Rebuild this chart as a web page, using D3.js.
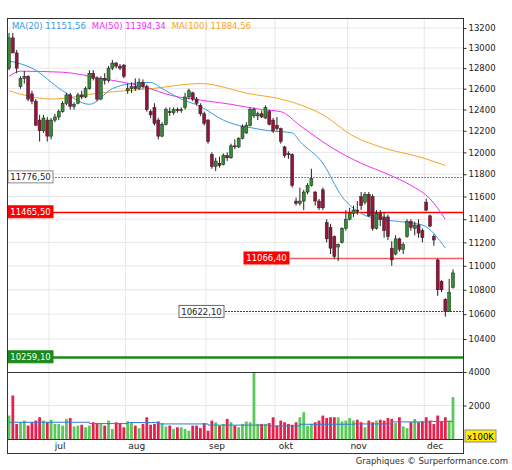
<!DOCTYPE html>
<html><head><meta charset="utf-8">
<script src="https://cdn.jsdelivr.net/npm/d3@7"></script>
<style>body{margin:0;background:#fff}text{font-family:"DejaVu Sans",sans-serif}</style>
</head><body><svg id="c" width="512" height="470"></svg>
<script>
"use strict";
// [open, high, low, close] per trading day
var ohlc = [
[12800,13150,12780,13100],[13100,13150,12950,12950],[12950,12980,12750,12800],[12620,12720,12600,12700],
[12700,12770,12650,12720],[12720,12730,12480,12500],[12550,12580,12450,12480],[12480,12500,12250,12250],
[12300,12350,12100,12200],[12200,12350,12180,12320],[12300,12330,12100,12150],[12150,12320,12120,12300],
[12300,12360,12280,12330],[12330,12400,12300,12380],[12380,12480,12370,12460],[12460,12560,12440,12540],
[12540,12560,12400,12430],[12430,12470,12400,12450],[12460,12560,12450,12540],[12540,12580,12500,12520],
[12520,12620,12510,12600],[12600,12780,12590,12750],[12750,12780,12680,12700],[12700,12720,12480,12500],
[12500,12720,12490,12700],[12700,12750,12640,12680],[12680,12820,12660,12800],[12800,12880,12780,12850],
[12850,12860,12800,12820],[12820,12840,12780,12800],[12830,12840,12700,12720],[12580,12650,12550,12600],
[12600,12660,12560,12620],[12620,12700,12580,12600],[12600,12700,12590,12660],[12660,12690,12600,12620],
[12620,12640,12380,12400],[12380,12400,12320,12350],[12420,12460,12250,12270],[12300,12320,12120,12150],
[12150,12280,12140,12260],[12260,12420,12250,12400],[12380,12420,12340,12370],[12370,12420,12350,12400],
[12400,12420,12370,12390],[12390,12420,12370,12400],[12420,12560,12400,12520],[12520,12600,12500,12580],
[12560,12570,12480,12500],[12500,12520,12440,12460],[12440,12460,12340,12360],[12360,12380,12250,12270],
[12300,12310,12080,12100],[11980,12000,11850,11870],[11870,11950,11830,11920],[11900,11960,11860,11880],
[11890,11990,11880,11970],[11970,12000,11920,11950],[11950,12080,11940,12060],[12060,12120,12030,12050],
[12050,12140,12040,12130],[12130,12260,12120,12240],[12180,12280,12170,12250],[12250,12420,12240,12400],
[12340,12420,12320,12400],[12340,12380,12300,12360],[12360,12390,12320,12330],[12320,12440,12310,12420],
[12380,12400,12250,12260],[12300,12320,12180,12200],[12250,12330,12200,12220],[12220,12230,12080,12100],
[12050,12060,11950,11970],[11990,12010,11940,11980],[11980,11990,11680,11700],[11560,11590,11520,11540],
[11540,11680,11520,11560],[11560,11660,11480,11640],[11640,11720,11620,11700],[11700,11850,11690,11760],
[11640,11650,11520,11560],[11560,11580,11480,11500],[11660,11680,11480,11500],[11370,11400,11200,11230],
[11330,11360,11100,11150],[11250,11260,11060,11080],[11160,11190,11040,11180],[11200,11330,11190,11320],
[11320,11480,11300,11400],[11400,11500,11390,11450],[11450,11520,11420,11480],[11480,11560,11440,11470],
[11600,11640,11480,11520],[11550,11640,11530,11620],[11620,11640,11420,11430],[11600,11620,11300,11320],
[11320,11480,11310,11450],[11450,11480,11340,11400],[11420,11460,11240,11300],[11420,11440,11220,11250],
[11150,11210,11000,11050],[11100,11260,11090,11230],[11230,11240,11120,11140],[11140,11200,11100,11180],
[11250,11400,11240,11380],[11380,11400,11300,11330],[11320,11380,11260,11350],[11350,11400,11240,11280],
[11300,11320,11200,11240],[11550,11580,11470,11480],[11430,11440,11330,11340],[11250,11270,11170,11220],
[11050,11060,10750,10800],[10870,10880,10780,10800],[10720,10730,10580,10620],[10620,10890,10620,10780],
[10820,10970,10810,10940]
];
var volume = [
1400,2600,900,1000,1100,800,1000,1100,1300,1100,1000,
1150,900,900,800,1200,1250,750,800,850,700,
800,1000,950,900,800,1100,600,1000,950,700,
1050,1000,800,650,900,1300,850,900,1050,950,
750,800,600,700,700,600,500,800,800,650,
950,500,1100,1000,800,900,1200,1000,800,700,
900,1050,1000,4000,900,900,900,950,1300,800,
1100,1000,900,850,1000,1300,1600,800,900,1000,
1100,1400,1250,1300,1300,1300,1050,1100,1250,1100,
1150,1000,700,1100,1000,1100,1150,1100,1250,1200,
950,1300,750,650,1000,1200,1000,1050,1300,1100,
900,1400,1050,1300,1100,2500
];
// moving averages sampled at [dayIndex, value]
var ma20 = [[0,12870],[6,12800],[14,12580],[21,12450],[27,12600],[32,12650],[37,12660],[40,12600],[45,12500],[50,12430],[56,12300],[60,12250],[63,12230],[68,12200],[74,12180],[76,12100],[82,11900],[87,11600],[92,11450],[97,11400],[102,11380],[108,11350],[114,11150]];
var ma50 = [[0,12720],[3,12770],[14,12760],[24,12700],[35,12620],[43,12530],[50,12490],[58,12450],[66,12400],[71,12380],[76,12250],[84,12050],[92,11900],[99,11800],[105,11700],[110,11580],[114,11400]];
var ma100 = [[0,12580],[11,12500],[24,12560],[37,12600],[50,12650],[63,12550],[71,12500],[82,12350],[90,12150],[97,12050],[108,11950],[114,11880]];
var volMA = [[0,1000],[20,1000],[21,920],[31,980],[39,900],[52,830],[68,780],[76,880],[90,900],[100,1020],[110,1050],[116,1050]];
var monthStart = [11,31,52,70,89,109];
var monthNames = ["jul","aug","sep","okt","nov","dec"];
var priceTicks = d3.range(10400, 13201, 200);
var levels = [
  {v:11776.5, label:"11776,50", kind:"grey", x0:null},
  {v:11465.5, label:"11465,50", kind:"red", x0:null},
  {v:11066.4, label:"11066,40", kind:"red", x0:290},
  {v:10622.1, label:"10622,10", kind:"dark", x0:225},
  {v:10259.1, label:"10259,10", kind:"green", x0:null}
];
var legend = [["MA(20)","11151,56","#3a9be0"],["MA(50)","11394,34","#f030f0"],["MA(100)","11884,56","#f5a623"]];

var L = 7, R = 463, T = 18, B = 453;
var svg = d3.select("#c");
var x = d3.scaleLinear().domain([0, ohlc.length - 1]).range([9, 453]);
var y = d3.scaleLog().domain([10400, 13200]).range([339, 28]);
var yv = d3.scaleLinear().domain([0, 4000]).range([439, 372]);
var grid = "#e6e6e6", upC = "#2f8f2f", dnC = "#9b1238";

// grid
var g = svg.append("g");
g.selectAll(".hg").data(priceTicks).enter().append("line")
  .attr("x1", L).attr("x2", R).attr("y1", d => y(d)).attr("y2", d => y(d)).attr("stroke", grid);
g.selectAll(".vg").data(monthStart).enter().append("line")
  .attr("x1", d => x(d) - 2).attr("x2", d => x(d) - 2).attr("y1", T).attr("y2", 439).attr("stroke", grid);
g.append("line").attr("x1", L).attr("x2", R).attr("y1", yv(2000)).attr("y2", yv(2000)).attr("stroke", grid);

// levels (lines first)
levels.forEach(function (lv) {
  var yy = Math.round(y(lv.v)) + 0.5, x0 = lv.x0 || L;
  var ln = svg.append("line").attr("x1", x0).attr("x2", R).attr("y1", yy).attr("y2", yy);
  if (lv.kind === "grey") ln.attr("stroke", "#888").attr("stroke-dasharray", "2,1");
  if (lv.kind === "dark") ln.attr("stroke", "#444").attr("stroke-dasharray", "2,1");
  if (lv.kind === "red") ln.attr("stroke", lv.x0 ? "#f06060" : "#f00").attr("stroke-width", 1.5);
  if (lv.kind === "green") ln.attr("stroke", "#1a8a1a").attr("stroke-width", 2.5);
});

// MAs
var line = d3.line().x(d => x(d[0])).y(d => y(d[1])).curve(d3.curveMonotoneX);
[[ma100,"#f5a623"],[ma50,"#f030f0"],[ma20,"#3a9be0"]].forEach(function (m) {
  svg.append("path").attr("d", line(m[0])).attr("fill", "none").attr("stroke", m[1]).attr("stroke-width", 1);
});

// candles
var c = svg.selectAll(".cd").data(ohlc).enter().append("g");
c.append("line").attr("x1", (d, i) => x(i)).attr("x2", (d, i) => x(i))
  .attr("y1", d => y(d[1])).attr("y2", d => y(d[2])).attr("stroke", "#222");
c.append("rect").attr("x", (d, i) => x(i) - 1.5).attr("width", 3)
  .attr("y", d => y(Math.max(d[0], d[3])))
  .attr("height", d => Math.max(1, Math.abs(y(d[0]) - y(d[3]))))
  .attr("fill", d => d[3] >= d[0] ? upC : dnC).attr("stroke", "#222").attr("stroke-width", 0.5);

// level labels
levels.forEach(function (lv) {
  var yy = y(lv.v), lx = lv.x0 ? lv.x0 - 46 : L + 1;
  var col = {grey:["#fff","#888","#222"], dark:["#fff","#666","#222"], red:["#f00","#f00","#fff"], green:["#1a8a1a","#1a8a1a","#fff"]}[lv.kind];
  svg.append("rect").attr("x", lx).attr("y", yy - 6).attr("width", 45).attr("height", 12)
    .attr("fill", col[0]).attr("stroke", col[1]);
  svg.append("text").attr("x", lx + 22.5).attr("y", yy + 3.5).attr("text-anchor", "middle")
    .attr("font-size", 8.5).attr("fill", col[2]).text(lv.label);
});

// volume
svg.append("g").selectAll("rect").data(volume).enter().append("rect")
  .attr("x", (d, i) => x(i) - 1.4).attr("width", 2.8)
  .attr("y", d => yv(d)).attr("height", d => yv(0) - yv(d))
  .attr("fill", (d, i) => ohlc[i][3] >= ohlc[i][0] ? "#5cc85c" : "#e8204e");
svg.append("path").attr("d", d3.line().x(d => x(d[0])).y(d => yv(d[1])).curve(d3.curveStepAfter)(volMA))
  .attr("fill", "none").attr("stroke", "#2a7fd4").attr("stroke-width", 1);

// frame
svg.append("rect").attr("x", L + 0.5).attr("y", T + 0.5).attr("width", R - L).attr("height", B - T)
  .attr("fill", "none").attr("stroke", "#333");
svg.append("line").attr("x1", L).attr("x2", R + 3).attr("y1", 372.5).attr("y2", 372.5).attr("stroke", "#333");
svg.append("line").attr("x1", L).attr("x2", R).attr("y1", 439.5).attr("y2", 439.5).attr("stroke", "#333");

// right axes
var ax = d3.axisRight(y).tickValues(priceTicks).tickFormat(d3.format("d")).tickSize(3);
var ag = svg.append("g").attr("transform", "translate(" + (R + 0.5) + ",0)").call(ax);
var av = svg.append("g").attr("transform", "translate(" + (R + 0.5) + ",0)")
  .call(d3.axisRight(yv).tickValues([2000, 4000]).tickFormat(d3.format("d")).tickSize(3));
[ag, av].forEach(function (a) {
  a.select(".domain").remove();
  a.selectAll("text").attr("font-size", 8.5).attr("fill", "#222").attr("x", 5);
  a.selectAll("line").attr("stroke", "#333");
});
svg.append("rect").attr("x", 465).attr("y", 430).attr("width", 31).attr("height", 12).attr("fill", "#ffee00").attr("stroke", "#888");
svg.append("text").attr("x", 480.5).attr("y", 439.5).attr("text-anchor", "middle").attr("font-size", 8.5).text("x100K");

// months
svg.selectAll(".mn").data(monthStart).enter().append("text")
  .attr("x", d => x(d) + 9).attr("y", 449).attr("text-anchor", "middle")
  .attr("font-size", 9).attr("fill", "#222").text((d, i) => monthNames[i]);

// legend
var lx = 12;
legend.forEach(function (l) {
  var t = svg.append("text").attr("x", lx).attr("y", 29).attr("font-size", 8.5).attr("fill", l[2]).text(l[0] + "  " + l[1]);
  lx += t.node().getComputedTextLength() + 6;
});

svg.append("text").attr("x", 508).attr("y", 464).attr("text-anchor", "end").attr("font-size", 8.5)
  .attr("fill", "#333").text("Graphiques © Surperformance.com");
</script></body></html>
